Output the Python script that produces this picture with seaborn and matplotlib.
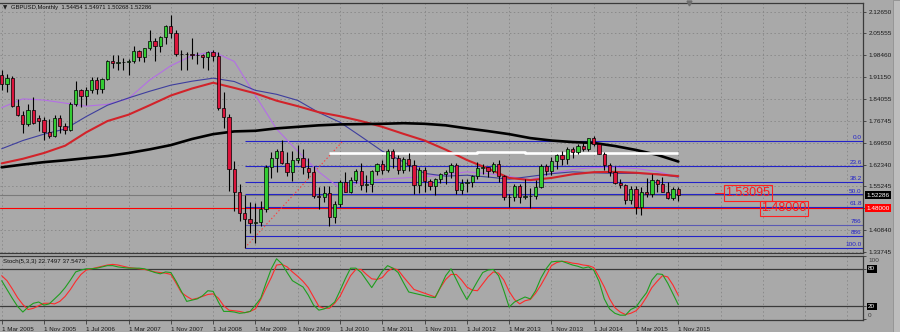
import numpy as np
import pandas as pd
import matplotlib
matplotlib.use("Agg")
import matplotlib.pyplot as plt
import matplotlib.transforms as mtrans
from matplotlib.patches import Rectangle
import seaborn as sns

sns.set_theme(style="white")
plt.rcParams["font.family"] = ["Liberation Sans", "DejaVu Sans"]

# ---------------- data ----------------
month_idx = list(range(129))  # Mar 2005 .. Nov 2015 (monthly bars)

opens = [1.9180, 1.8900, 1.9080, 1.8150, 1.7880, 1.7560, 1.8020, 1.7760, 1.7700, 1.7320,
         1.7180, 1.7760, 1.7520, 1.7360, 1.8230, 1.8690, 1.8480, 1.8680, 1.9020, 1.8720,
         1.9050, 1.9630, 1.9580, 1.9610, 1.9620, 1.9640, 1.9980, 1.9790, 2.0060, 2.0300,
         2.0140, 2.0440, 2.0780, 2.0560, 1.9860, 1.9890, 1.9860, 1.9850, 1.9840, 1.9760,
         1.9930, 1.9810, 1.8110, 1.7800, 1.6080, 1.5350, 1.4650, 1.4450, 1.4310, 1.4340,
         1.4790, 1.6170, 1.6450, 1.6700, 1.6290, 1.6000, 1.6400, 1.6460, 1.6130, 1.5980,
         1.5200, 1.5180, 1.5300, 1.4520, 1.4930, 1.5680, 1.5340, 1.5720, 1.6030, 1.5580,
         1.5600, 1.6040, 1.6260, 1.6050, 1.6700, 1.6460, 1.6060, 1.6420, 1.6220, 1.5580,
         1.6060, 1.5690, 1.5520, 1.5750, 1.5920, 1.6000, 1.6240, 1.5410, 1.5650, 1.5670,
         1.5870, 1.6140, 1.6150, 1.6030, 1.6250, 1.5860, 1.5170, 1.5190, 1.5530, 1.5190,
         1.5210, 1.5200, 1.5500, 1.6190, 1.6030, 1.6360, 1.6560, 1.6430, 1.6740, 1.6640,
         1.6840, 1.6760, 1.7100, 1.6900, 1.6600, 1.6220, 1.5990, 1.5640, 1.5580, 1.5070,
         1.5430, 1.4830, 1.5350, 1.5280, 1.5720, 1.5610, 1.5350, 1.5130, 1.54454]
highs = [1.9340, 1.9220, 1.9150, 1.8400, 1.7990, 1.8240, 1.8470, 1.7880, 1.7800, 1.7740,
         1.7880, 1.7860, 1.7620, 1.8290, 1.9000, 1.8730, 1.8790, 1.9130, 1.9110, 1.9100,
         1.9690, 1.9850, 1.9850, 1.9740, 1.9700, 2.0130, 2.0000, 2.0080, 2.0650, 2.0410,
         2.0460, 2.0830, 2.1160, 2.0660, 2.0000, 1.9930, 2.0400, 1.9950, 1.9890, 1.9970,
         2.0010, 1.9930, 1.8630, 1.7900, 1.6350, 1.5600, 1.5250, 1.5016, 1.4985, 1.5030,
         1.6240, 1.6660, 1.6740, 1.7043, 1.6640, 1.6690, 1.6880, 1.6760, 1.6460, 1.6200,
         1.5500, 1.5520, 1.5520, 1.5030, 1.5720, 1.5990, 1.5840, 1.6100, 1.6300, 1.5890,
         1.6060, 1.6280, 1.6400, 1.6750, 1.6750, 1.6550, 1.6480, 1.6620, 1.6380, 1.6170,
         1.6170, 1.5780, 1.5810, 1.5970, 1.6050, 1.6300, 1.6300, 1.5780, 1.5750, 1.5910,
         1.6310, 1.6250, 1.6170, 1.6310, 1.6380, 1.5890, 1.5270, 1.5600, 1.5600, 1.5750,
         1.5480, 1.5720, 1.6260, 1.6260, 1.6480, 1.6600, 1.6670, 1.6820, 1.6820, 1.6920,
         1.6990, 1.7120, 1.7192, 1.6930, 1.6640, 1.6280, 1.6190, 1.5780, 1.5590, 1.5550,
         1.5520, 1.5500, 1.5810, 1.5930, 1.5750, 1.5820, 1.5660, 1.5510, 1.54971]
lows = [1.8700, 1.8630, 1.8130, 1.7850, 1.7280, 1.7500, 1.7580, 1.7340, 1.7050, 1.7100,
        1.7150, 1.7280, 1.7240, 1.7330, 1.8160, 1.8140, 1.8200, 1.8580, 1.8570, 1.8580,
        1.9020, 1.9430, 1.9340, 1.9340, 1.9190, 1.9570, 1.9660, 1.9620, 2.0000, 1.9640,
        1.9930, 2.0210, 2.0400, 1.9810, 1.9340, 1.9360, 1.9710, 1.9540, 1.9400, 1.9340,
        1.9660, 1.8040, 1.7440, 1.5360, 1.4720, 1.4390, 1.3503, 1.4000, 1.3657, 1.4230,
        1.4680, 1.5800, 1.6000, 1.6250, 1.5850, 1.5700, 1.6300, 1.5930, 1.5810, 1.5150,
        1.4780, 1.5020, 1.4230, 1.4320, 1.4840, 1.5330, 1.5300, 1.5640, 1.5420, 1.5340,
        1.5350, 1.5910, 1.5930, 1.6010, 1.6120, 1.5940, 1.5960, 1.6040, 1.5270, 1.5320,
        1.5330, 1.5420, 1.5240, 1.5640, 1.5600, 1.5800, 1.5270, 1.5270, 1.5340, 1.5490,
        1.5780, 1.5920, 1.5830, 1.5970, 1.5680, 1.5070, 1.4832, 1.5040, 1.4990, 1.5100,
        1.4810, 1.5100, 1.5470, 1.5890, 1.5890, 1.6080, 1.6220, 1.6250, 1.6460, 1.6580,
        1.6690, 1.6690, 1.6860, 1.6580, 1.6050, 1.5880, 1.5590, 1.5480, 1.4950, 1.4950,
        1.4630, 1.4570, 1.5170, 1.5170, 1.5330, 1.5330, 1.5110, 1.5080, 1.50268]
closes = [1.8900, 1.9100, 1.8150, 1.7880, 1.7560, 1.8020, 1.7620, 1.7660, 1.7320, 1.7180,
          1.7760, 1.7520, 1.7360, 1.8230, 1.8690, 1.8480, 1.8680, 1.9020, 1.8720, 1.9050,
          1.9630, 1.9580, 1.9610, 1.9620, 1.9640, 1.9980, 1.9790, 2.0060, 2.0300, 2.0140,
          2.0440, 2.0780, 2.0560, 1.9890, 1.9890, 1.9860, 1.9850, 1.9840, 1.9760, 1.9930,
          1.9810, 1.8110, 1.7800, 1.6080, 1.5350, 1.4650, 1.4450, 1.4310, 1.4340, 1.4790,
          1.6170, 1.6450, 1.6700, 1.6290, 1.6000, 1.6400, 1.6460, 1.6170, 1.5980, 1.5200,
          1.5180, 1.5300, 1.4520, 1.4930, 1.5680, 1.5340, 1.5720, 1.6030, 1.5580, 1.5600,
          1.6040, 1.6260, 1.6050, 1.6700, 1.6460, 1.6060, 1.6420, 1.6220, 1.5580, 1.6060,
          1.5690, 1.5520, 1.5750, 1.5920, 1.6000, 1.6240, 1.5410, 1.5650, 1.5670, 1.5870,
          1.6140, 1.6150, 1.6030, 1.6250, 1.5860, 1.5170, 1.5190, 1.5530, 1.5190, 1.5210,
          1.5200, 1.5500, 1.6190, 1.6030, 1.6360, 1.6560, 1.6430, 1.6740, 1.6640, 1.6840,
          1.6760, 1.7100, 1.6900, 1.6600, 1.6220, 1.5990, 1.5640, 1.5580, 1.5070, 1.5430,
          1.4830, 1.5350, 1.5280, 1.5720, 1.5610, 1.5350, 1.5130, 1.5430, 1.52286]

# moving averages, one value every 4 bars
ma_idx = list(range(0, 129, 4))
ma_black = [1.615, 1.624, 1.632, 1.638, 1.645, 1.652, 1.662, 1.674, 1.688, 1.708, 1.724,
            1.733, 1.735, 1.743, 1.748, 1.753, 1.756, 1.757, 1.758, 1.760, 1.758, 1.753,
            1.743, 1.734, 1.724, 1.711, 1.703, 1.698, 1.695, 1.685, 1.672, 1.656, 1.634]
ma_red = [1.628, 1.643, 1.662, 1.686, 1.730, 1.767, 1.788, 1.819, 1.851, 1.874, 1.893,
          1.876, 1.858, 1.834, 1.816, 1.796, 1.783, 1.767, 1.748, 1.725, 1.703, 1.673,
          1.639, 1.611, 1.580, 1.573, 1.580, 1.592, 1.599, 1.600, 1.597, 1.592, 1.586]
ma_blue = [1.676, 1.703, 1.724, 1.741, 1.782, 1.819, 1.843, 1.865, 1.885, 1.898, 1.908,
           1.897, 1.868, 1.855, 1.835, 1.795, 1.763, 1.716, 1.668, 1.633, 1.595, 1.586,
           1.589, 1.583, 1.576, 1.585, 1.594, 1.600, 1.597, 1.595, 1.595, 1.593, 1.583]
ma_purple = [1.811, 1.840, 1.836, 1.826, 1.816, 1.822, 1.841, 1.902, 1.949, 1.982, 1.995,
             1.963, 1.851, 1.741, 1.668, 1.600, 1.546, 1.567, 1.576, 1.580, 1.584, 1.591,
             1.600, 1.594, 1.585, 1.574, 1.595, 1.608, 1.614, 1.615, 1.611, 1.601, 1.583]

white_idx = [62, 90, 90, 99, 99, 128]
white_val = [1.6615, 1.6615, 1.6648, 1.6648, 1.6615, 1.6615]

fib_start = 46
fib_high, fib_low = 1.7024, 1.3503
fib_levels = [0.0, 23.6, 38.2, 50.0, 61.8, 78.6, 88.6, 100.0]
fib_labels = ["0.0", "23.6", "38.2", "50.0", "61.8", "786", "886", "100.0"]

level_red = 1.48000
bid = 1.52286
label_a, label_b = 1.53095, 1.48000

stoch_main = [61, 47, 33, 20, 11, 19, 25, 27, 22, 24,
              32, 40, 50, 62, 75, 78, 80, 80, 81, 83,
              85, 85, 83, 82, 81, 81, 81, 80, 77, 74,
              72, 75, 74, 60, 44, 28, 30, 32, 37, 45,
              44, 27, 12, 12, 11, 9, 10, 12, 22, 33,
              57, 80, 96, 88, 74, 61, 56, 51, 38, 22,
              14, 16, 20, 27, 45, 64, 81, 81, 74, 62,
              50, 63, 76, 85, 81, 74, 58, 43, 41, 39,
              37, 35, 34, 51, 69, 80, 63, 46, 31, 45,
              60, 74, 78, 79, 69, 45, 19, 27, 31, 35,
              32, 45, 65, 80, 91, 92, 92, 89, 86, 84,
              81, 83, 78, 60, 32, 16, 9, 6, 6, 15,
              19, 31, 42, 62, 72, 71, 57, 40, 22.7]
stoch_signal = [69, 61, 48, 34, 23, 15, 17, 21, 25, 25,
                24, 28, 36, 47, 60, 71, 78, 80, 82, 84,
                86, 87, 86, 84, 82, 81, 80, 79, 77, 75,
                74, 73, 71, 57, 42, 36, 31, 33, 36, 39,
                40, 33, 21, 14, 13, 12, 10, 12, 16, 31,
                49, 66, 86, 87, 83, 75, 68, 60, 50, 35,
                20, 17, 17, 25, 36, 53, 69, 79, 79, 71,
                64, 63, 66, 76, 81, 78, 67, 57, 47, 44,
                41, 38, 35, 50, 63, 71, 71, 62, 51, 46,
                45, 56, 67, 75, 73, 62, 44, 31, 24, 29,
                31, 41, 54, 69, 85, 90, 92, 91, 89, 88,
                86, 85, 82, 67, 51, 32, 18, 11, 7, 9,
                13, 22, 35, 50, 60, 69, 67, 54, 37.5]

price_ticks = [2.12650, 2.05555, 1.98460, 1.91150, 1.84055, 1.76745, 1.69650,
               1.62340, 1.55245, 1.48150, 1.40840, 1.33745]
price_tick_labels = ["2.12650", "2.05555", "1.98460", "1.91150", "1.84055", "1.76745",
                     "1.69650", "1.62340", "1.55245", "", "1.40840", "1.33745"]
date_ticks = list(range(0, 129, 8))
date_labels = ["1 Mar 2005", "1 Nov 2005", "1 Jul 2006", "1 Mar 2007", "1 Nov 2007",
               "1 Jul 2008", "1 Mar 2009", "1 Nov 2009", "1 Jul 2010", "1 Mar 2011",
               "1 Nov 2011", "1 Jul 2012", "1 Mar 2013", "1 Nov 2013", "1 Jul 2014",
               "1 Mar 2015", "1 Nov 2015"]
title_text = "GBPUSD,Monthly  1.54454 1.54971 1.50268 1.52286"
stoch_text = "Stoch(5,3,3) 22.7497 37.5473"

# ---------------- styling ----------------
BG = "#a9a9a9"
GRID = "#8a8a8a"
SPINE = "#3a3a3a"
BULL = "#33cc33"
BEAR = "#dc143c"
FIBC = "#2323c8"
FS = 4.6
W, H = 900, 332

def fx(px):
    return px / W

def fy(py):
    return 1 - py / H

fig = plt.figure(figsize=(9, 3.32), dpi=100)
fig.patch.set_facecolor(BG)
ax = fig.add_axes([0, fy(253), 863 / W, (253 - 3) / H])
axs = fig.add_axes([0, fy(320), 863 / W, (320 - 256) / H])
XL = (-0.32, 162.94)
for a in (ax, axs):
    a.set_facecolor(BG)
    a.set_xlim(*XL)
    for s in ("top", "bottom", "right"):
        a.spines[s].set_color(SPINE)
        a.spines[s].set_linewidth(0.9)
    a.spines["left"].set_visible(False)
ax.set_ylim(1.3333, 2.1551)
axs.set_ylim(-1.7, 100.4)

# grid
for v in price_ticks:
    ax.axhline(v, color=GRID, lw=0.7, ls=(0, (1.5, 2.5)), zorder=0)
for i in range(0, 163, 8):
    ax.axvline(i, color=GRID, lw=0.7, ls=(0, (1.5, 2.5)), zorder=0)
    axs.axvline(i, color=GRID, lw=0.7, ls=(0, (1.5, 2.5)), zorder=0)

# horizontal levels
ax.axhline(bid, color="#7a7a7a", lw=0.8, zorder=1)
ax.axhline(level_red, color="#ff0000", lw=0.8, zorder=2)
span = fib_high - fib_low
for lv, lb in zip(fib_levels, fib_labels):
    p = fib_high - lv / 100.0 * span
    col = "#5a5ab4" if lv == 78.6 else FIBC
    ax.plot([fib_start, XL[1]], [p, p], color=col, lw=0.8, zorder=2, solid_capstyle="butt")
    ax.text(162.7, p + 0.002, lb, ha="right", va="bottom", color=FIBC, fontsize=FS, zorder=6)
ax.plot([fib_start, 64.6], [fib_low, fib_high], color="#ff3b3b", lw=0.8,
        ls=(0, (1.2, 2.0)), zorder=2)

# moving averages
sns.lineplot(x=ma_idx, y=ma_purple, ax=ax, color="#b46ee6", lw=0.8, zorder=3)
sns.lineplot(x=ma_idx, y=ma_blue, ax=ax, color="#3e3e9e", lw=0.8, zorder=3)
sns.lineplot(x=ma_idx, y=ma_red, ax=ax, color="#d2232a", lw=1.5, zorder=3)
sns.lineplot(x=ma_idx, y=ma_black, ax=ax, color="#000000", lw=1.9, zorder=3)
ax.plot(white_idx, white_val, color="white", lw=1.9, zorder=3, solid_capstyle="butt")

# candles
o = np.array(opens); h = np.array(highs); l = np.array(lows); c = np.array(closes)
xs = np.array(month_idx)
cols = np.where(c > o, BULL, BEAR)
ax.vlines(xs, l, h, color="black", lw=0.8, zorder=4)
ax.bar(xs, np.abs(c - o), bottom=np.minimum(o, c), width=0.62, color=cols,
       edgecolor="black", linewidth=0.5, zorder=5)

# price labels on chart
ax.plot([135.0, 136.5], [label_a, label_a], color="#ff2020", lw=0.8, zorder=6)
ax.text(136.9, label_a, "1.53095", ha="left", va="center", fontsize=9, color="#ff1a1a",
        zorder=7, bbox=dict(boxstyle="square,pad=0.14", fc="none", ec="#ff2020", lw=0.8))
ax.text(143.7, label_b, "1.48000", ha="left", va="center", fontsize=9, color="#ff1a1a",
        zorder=7, bbox=dict(boxstyle="square,pad=0.14", fc="none", ec="#ff2020", lw=0.8))

# right price axis
ax.yaxis.tick_right()
ax.set_yticks(price_ticks)
ax.set_yticklabels(price_tick_labels)
ax.tick_params(axis="y", right=True, length=2.5, width=0.6, color=SPINE, labelsize=FS,
               pad=1.5, labelcolor="#1a1a1a")
ax.set_xticks([])
ax.set_xlabel(""); ax.set_ylabel("")
tr = mtrans.blended_transform_factory(ax.transAxes, ax.transData)
ax.text(1.004, bid, "1.52286", transform=tr, ha="left", va="center", fontsize=FS,
        color="white", zorder=8, bbox=dict(boxstyle="square,pad=0.25", fc="black", ec="none"))
ax.text(1.004, level_red, "1.48000", transform=tr, ha="left", va="center", fontsize=FS,
        color="white", zorder=8, bbox=dict(boxstyle="square,pad=0.25", fc="#ff0000", ec="none"))
ax.plot([130], [2.1551], marker="v", ms=3.5, color="#6e6e6e", clip_on=False, zorder=9)

# stochastic
axs.axhline(80, color=SPINE, lw=0.9, zorder=1)
axs.axhline(20, color=SPINE, lw=0.9, zorder=1)
sns.lineplot(x=month_idx, y=stoch_signal, ax=axs, color="#ff2a2a", lw=0.8, zorder=3)
sns.lineplot(x=month_idx, y=stoch_main, ax=axs, color="#1f9e1f", lw=0.8, zorder=3)
axs.yaxis.tick_right()
axs.set_yticks([100, 80, 20, 0])
axs.set_yticklabels(["", "", "", ""])
axs.tick_params(axis="y", right=True, length=2.5, width=0.6, color=SPINE)
trs = mtrans.blended_transform_factory(axs.transAxes, axs.transData)
axs.text(1.006, 93.5, "100", transform=trs, ha="left", va="center", fontsize=FS, color="#404040")
axs.text(1.006, 5.5, "0", transform=trs, ha="left", va="center", fontsize=FS, color="#404040")
for v in (80, 20):
    axs.text(1.006, v, str(v), transform=trs, ha="left", va="center", fontsize=FS,
             color="white", bbox=dict(boxstyle="square,pad=0.2", fc="black", ec="none"))
axs.set_xticks(date_ticks)
axs.set_xticklabels(date_labels)
axs.tick_params(axis="x", bottom=True, length=3, width=0.6, color=SPINE, labelsize=4.5,
                pad=1.8, labelcolor="#1a1a1a")
for t in axs.get_xticklabels():
    t.set_ha("left")
axs.set_xlabel(""); axs.set_ylabel("")

# texts
fig.text(fx(3), fy(8), "\u25bc", fontsize=4, va="center", ha="left", color="#202020",
         family=["DejaVu Sans"])
fig.text(fx(11), fy(8), title_text, fontsize=4.2, va="center", ha="left", color="#101010")
fig.text(fx(3), fy(262), stoch_text, fontsize=4.4, va="center", ha="left", color="#101010")

# scrollbar strip at right
fig.patches.append(Rectangle((fx(893), 0), fx(7), 1, transform=fig.transFigure,
                             fc="#bdbdbd", ec="#8a8a8a", lw=0.5, zorder=0))

fig.savefig("out.png", dpi=100, facecolor=fig.get_facecolor())
